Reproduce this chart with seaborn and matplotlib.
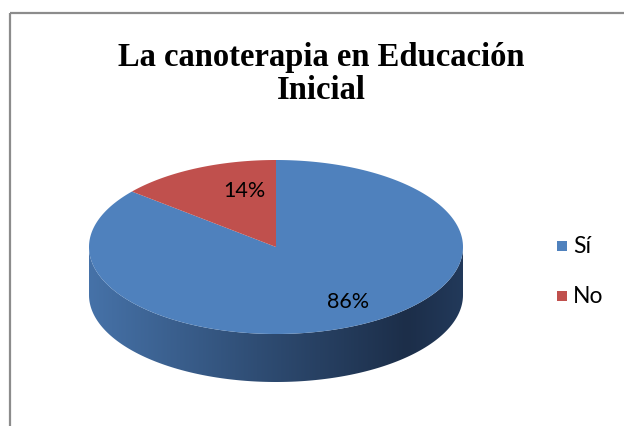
import numpy as np
import matplotlib
matplotlib.use("Agg")
import matplotlib.pyplot as plt
import seaborn as sns
from matplotlib.patches import Polygon, Rectangle
from matplotlib.colors import LinearSegmentedColormap

sns.set_theme(style="white")
plt.rcParams['font.family'] = ['Lato', 'DejaVu Sans']

title = "La canoterapia en Educación\nInicial"
categories = ["Sí", "No"]
values = [86, 14]
colors = ["#4f81bd", "#c0504d"]

W, H = 624, 427
fig = plt.figure(figsize=(W / 100, H / 100), dpi=100)
ax = fig.add_axes([0, 0, 1, 1])
ax.set_xlim(0, W)
ax.set_ylim(H, 0)
ax.axis("off")

# frame (top and left visible)
ax.plot([9.5, W], [13.5, 13.5], color="#8c8c8c", lw=1.6, solid_capstyle="butt")
ax.plot([9.5, 9.5], [13.5, H], color="#8c8c8c", lw=1.6, solid_capstyle="butt")

# pie geometry (pixels)
cx, cy, a, b, depth = 276, 248, 187, 87, 48

def ell(t):
    t = np.radians(t)
    return cx + a * np.cos(t), cy - b * np.sin(t)

# side wall (front half)
ts = np.linspace(180, 360, 200)
xs, ys = ell(ts)
side = np.concatenate([np.c_[xs, ys], np.c_[xs[::-1], ys[::-1] + depth]])
poly = Polygon(side, closed=True, facecolor="none", edgecolor="none")
ax.add_patch(poly)
cmap = LinearSegmentedColormap.from_list(
    "side", [(0, "#4672a8"), (0.45, "#2f4d74"), (0.85, "#1c2e49"), (1.0, "#22395a")])
grad = np.linspace(0, 1, 256)[None, :]
im = ax.imshow(grad, cmap=cmap, extent=[cx - a, cx + a, cy + b + depth, cy - 5],
               aspect="auto", zorder=1, interpolation="bilinear")
im.set_clip_path(poly)
ax.set_xlim(0, W)
ax.set_ylim(H, 0)

# top face wedges: first slice starts at 12 o'clock, clockwise
total = sum(values)
start = 90.0
for v, c in zip(values, colors):
    end = start - 360.0 * v / total
    tt = np.linspace(start, end, 300)
    px, py = ell(tt)
    pts = np.vstack([[cx, cy], np.c_[px, py]])
    ax.add_patch(Polygon(pts, closed=True, facecolor=c, edgecolor="none", zorder=2))
    start = end

# data labels
label_pos = [(348, 302), (244, 191)]
for (lx, ly), v in zip(label_pos, values):
    ax.text(lx, ly, f"{v}%", ha="center", va="center", fontsize=15.5, color="#000000", zorder=3)

# title
ax.text(321, 74, title, ha="center", va="center", fontsize=23.5, fontweight="bold",
        family=["Liberation Serif", "DejaVu Serif"], linespacing=1.12, color="#000000")

# legend
leg_y = [247, 297]
for cat, c, y in zip(categories, colors, leg_y):
    ax.add_patch(Rectangle((557, y - 5), 10, 10, facecolor=c, edgecolor="none"))
    ax.text(573, y, cat, ha="left", va="center", fontsize=16.5, color="#000000")

fig.savefig("out.png", dpi=100)
